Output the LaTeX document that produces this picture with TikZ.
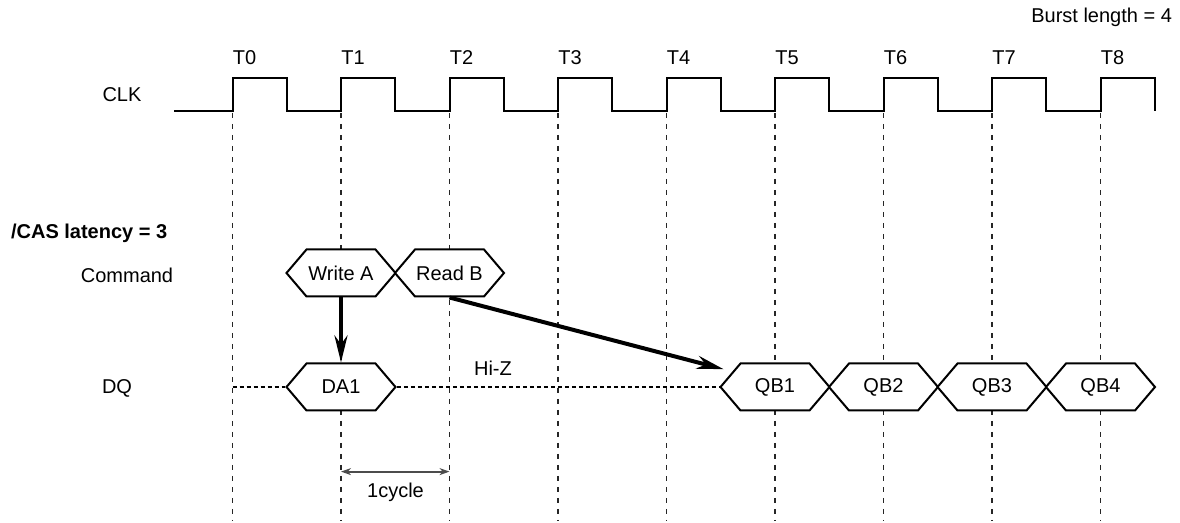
\documentclass[tikz,border=0pt]{standalone}
\usepackage{fontspec}
\setmainfont{Liberation Sans}
\usetikzlibrary{arrows.meta,shapes.symbols}

\begin{document}
\begin{tikzpicture}[x=0.5pt,y=-0.5pt,font=\fontsize{10}{12}\selectfont,
    bus/.style={signal,signal to=east and west,signal pointer angle=99.2,draw,fill=white,
      line width=1pt,minimum width=54.5pt,minimum height=23.5pt,inner sep=0pt},
    grid/.style={draw=black!85,line width=0.55pt,dash pattern=on 2.5pt off 3pt},
    hiz/.style={line width=1pt,dash pattern=on 2pt off 1.5pt}]
    \useasboundingbox (0,0) rectangle (1180,523);
    \node [anchor=east] (bl) at (1179,17) {Burst length = 4};
    \node (clk) at (122,95) {CLK};
    \node [anchor=west,font=\bfseries\fontsize{10}{12}\selectfont] (cas) at (4,233) {/CAS latency = 3};
    \node (cmd) at (127,275) {Command};
    \node (dq) at (117,388) {DQ};
    \foreach \i in {0,...,8} {
      \coordinate (e\i) at (232.5+108.5*\i,113);
      \coordinate (b\i) at (232.5+108.5*\i,521);
      \node [anchor=base west,inner sep=0pt] (t\i) at (232.5+108.5*\i,65) {T\i};
      \draw [grid] (e\i) -- (b\i);
    }
    \draw [line width=1pt] (174,111) foreach \i in {0,...,8} {
      -| (232.5+108.5*\i,78) -| (286.75+108.5*\i,111) };
    \node [bus] (wa) at (341,273) {Write A};
    \node [bus] (rb) at (449.5,273) {Read B};
    \node [bus] (da) at (341,387) {DA1};
    \node [bus] (qb1) at (775,387) {QB1};
    \node [bus] (qb2) at (883.5,387) {QB2};
    \node [bus] (qb3) at (992,387) {QB3};
    \node [bus] (qb4) at (1100.5,387) {QB4};
    \draw [hiz] (e0 |- da) -- (da.west);
    \draw [hiz] (da.east) -- (qb1.west);
    \node (hz) at (493,368) {Hi-Z};
    \begin{scope}[-{Stealth[length=13.5pt,width=6.5pt]},line width=2pt]
      \draw (wa.south) -- (da.north);
      \draw [shorten >=4.5pt] (rb.south) -- (qb1.160);
    \end{scope}
    \node (cyc) at (395.5,492) {1cycle};
    \draw [{Stealth[length=5pt,width=3.5pt]}-{Stealth[length=5pt,width=3.5pt]},draw=black!70,line width=1pt]
      ([yshift=2pt]cyc.north -| e1) -- ([yshift=2pt]cyc.north -| e2);
\end{tikzpicture}
\end{document}
